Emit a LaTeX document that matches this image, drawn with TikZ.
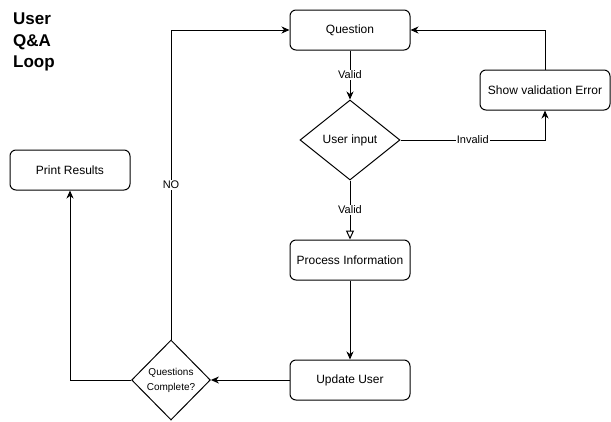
\documentclass[tikz,border=0pt]{standalone}
\usepackage{fontspec}
\setmainfont{Liberation Sans}
\usetikzlibrary{arrows.meta,shapes.geometric}

\begin{document}
\begin{tikzpicture}[x=1pt,y=-1pt,
	box/.style={draw,line width=1pt,rounded corners=6pt,minimum width=120pt,minimum height=40pt,inner sep=2pt,font=\fontsize{12}{14}\selectfont},
	decision/.style={draw,line width=1pt,diamond,aspect=1.25,inner sep=0pt,align=center},
	flow/.style={line width=1pt,-{Stealth[length=8pt,width=7pt,inset=2.5pt]}},
	openflow/.style={line width=1pt,-{Triangle[open,length=9pt,width=8pt]}},
	lbl/.style={fill=white,inner sep=1pt,font=\fontsize{11}{13}\selectfont}]
						\useasboundingbox (0,0) rectangle (611,421);
						
						\node[anchor=north west,inner sep=0pt,align=left,font=\bfseries\fontsize{17}{21.5}\selectfont] (title) at (13,13) {User\\Q\&A\\Loop};
						
						\node[box] (question) at (350,30) {Question};
						\node[decision,minimum width=100pt,minimum height=80pt,font=\fontsize{12}{14}\selectfont] (input) at (350,140) {User input};
						\node[box,minimum width=130pt] (error) at (545,90) {Show validation Error};
						\node[box] (process) at (350,260) {Process Information};
						\node[box] (update) at (350,380) {Update User};
						\node[decision,minimum width=78pt,minimum height=80pt,font=\fontsize{10}{15}\selectfont] (complete) at (171,380) {Questions\\Complete?};
						\node[box] (print) at (70,170) {Print Results};
						
						\draw[flow] (question) - - node[lbl] {Valid} (input);
						\draw[flow] (input.east) -| node[lbl,pos=0.25] {Invalid} (error.south);
						\draw[flow] (error.north) |- (question.east);
						\draw[openflow] (input.south) - - node[lbl] {Valid} (process);
						\draw[flow] (process) - - (update);
						\draw[flow] (update) - - (complete);
						\draw[flow] (complete.north) |- node[lbl,pos=0.25] {NO} (question.west);
						\draw[flow] (complete.west) -| (print.south);
					\end{tikzpicture}
\end{document}
